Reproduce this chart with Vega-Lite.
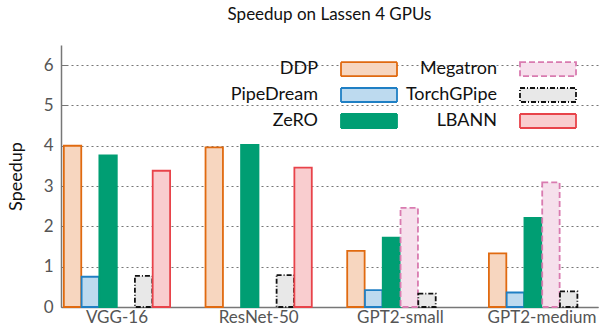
{
  "$schema": "https://vega.github.io/schema/vega-lite/v6.json",
  "autosize": "none",
  "width": 537,
  "height": 262,
  "padding": {"left": 61, "top": 45, "right": 4, "bottom": 19},
  "title": {"text": "Speedup on Lassen 4 GPUs", "anchor": "middle", "frame": "group", "fontSize": 17, "font": "Lato", "fontWeight": "normal", "color": "#111", "offset": 21},
  "config": {
    "font": "Lato",
    "view": {"stroke": null},
    "axis": {"labelFont": "Lato", "titleFont": "Lato"}
  },
  "data": {"values": [
    {"model": "VGG-16", "system": "DDP", "speedup": 4.0},
    {"model": "VGG-16", "system": "PipeDream", "speedup": 0.75},
    {"model": "VGG-16", "system": "ZeRO", "speedup": 3.76},
    {"model": "VGG-16", "system": "TorchGPipe", "speedup": 0.77},
    {"model": "VGG-16", "system": "LBANN", "speedup": 3.38},
    {"model": "ResNet-50", "system": "DDP", "speedup": 3.96},
    {"model": "ResNet-50", "system": "ZeRO", "speedup": 4.02},
    {"model": "ResNet-50", "system": "TorchGPipe", "speedup": 0.79},
    {"model": "ResNet-50", "system": "LBANN", "speedup": 3.46},
    {"model": "GPT2-small", "system": "DDP", "speedup": 1.39},
    {"model": "GPT2-small", "system": "PipeDream", "speedup": 0.42},
    {"model": "GPT2-small", "system": "ZeRO", "speedup": 1.72},
    {"model": "GPT2-small", "system": "Megatron", "speedup": 2.46},
    {"model": "GPT2-small", "system": "TorchGPipe", "speedup": 0.33},
    {"model": "GPT2-medium", "system": "DDP", "speedup": 1.33},
    {"model": "GPT2-medium", "system": "PipeDream", "speedup": 0.36},
    {"model": "GPT2-medium", "system": "ZeRO", "speedup": 2.21},
    {"model": "GPT2-medium", "system": "Megatron", "speedup": 3.09},
    {"model": "GPT2-medium", "system": "TorchGPipe", "speedup": 0.39}
  ]},
  "mark": {"type": "bar", "strokeWidth": 1.8, "strokeJoin": "miter"},
  "encoding": {
    "x": {
      "field": "model", "type": "nominal",
      "sort": ["VGG-16", "ResNet-50", "GPT2-small", "GPT2-medium"],
      "scale": {"paddingInner": 0.25, "paddingOuter": 0.02},
      "axis": {"title": null, "labelAngle": 0, "ticks": false, "labelFontSize": 17, "labelColor": "#555", "domainColor": "#777", "domainWidth": 1.5, "labelPadding": 2}
    },
    "xOffset": {
      "field": "system", "type": "nominal",
      "scale": {"domain": ["DDP", "PipeDream", "ZeRO", "Megatron", "TorchGPipe", "LBANN"], "paddingInner": 0.02}
    },
    "y": {
      "field": "speedup", "type": "quantitative",
      "scale": {"domain": [0, 6.5], "nice": false},
      "axis": {"title": "Speedup", "titleFontSize": 18, "titleFontWeight": "normal", "titleColor": "#111", "titlePadding": 18, "values": [0, 1, 2, 3, 4, 5, 6], "labelFontSize": 17, "labelColor": "#555", "tickColor": "#777", "tickSize": -6, "domainColor": "#777", "domainWidth": 1.5, "grid": true, "gridColor": "#777", "gridDash": [2, 3], "gridWidth": 1.2, "labelPadding": 14}
    },
    "stroke": {
      "field": "system", "type": "nominal",
      "scale": {"domain": ["DDP", "PipeDream", "ZeRO", "Megatron", "TorchGPipe", "LBANN"], "range": ["#e06a10", "#1f7fc4", "#009e73", "#d97bb0", "#111111", "#e8434a"]},
      "legend": {
        "title": null, "orient": "none", "legendX": 293, "legendY": 9, "columns": 2,
        "symbolType": "M-2,-0.5H2V0.5H-2Z", "symbolSize": 784, "symbolStrokeWidth": 1.8,
        "labelAlign": "right", "labelOffset": -66, "labelFontSize": 18, "labelColor": "#111",
        "rowPadding": -4, "columnPadding": 4
      }
    },
    "fill": {
      "field": "system", "type": "nominal",
      "scale": {"domain": ["DDP", "PipeDream", "ZeRO", "Megatron", "TorchGPipe", "LBANN"], "range": ["#f7d6bf", "#bddaef", "#009e73", "#f6e0ec", "#e8e8e8", "#f9cdcf"]}
    },
    "strokeDash": {
      "field": "system", "type": "nominal",
      "scale": {"domain": ["DDP", "PipeDream", "ZeRO", "Megatron", "TorchGPipe", "LBANN"], "range": [[1, 0], [1, 0], [1, 0], [6, 3], [5, 2, 1, 2], [1, 0]]}
    }
  }
}
